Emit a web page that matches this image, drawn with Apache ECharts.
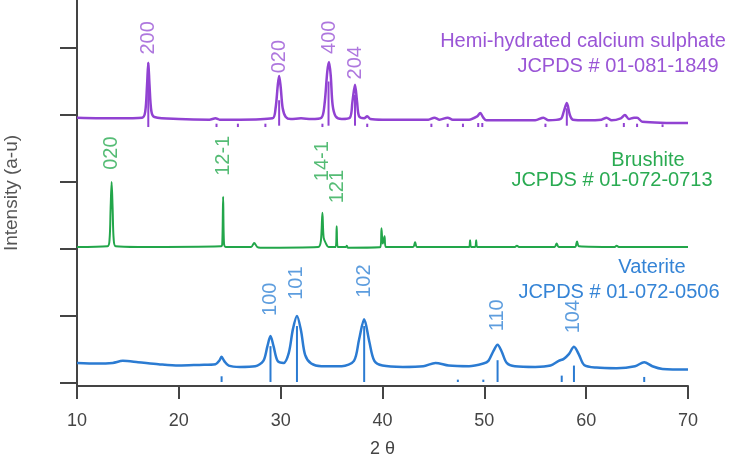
<!DOCTYPE html>
<html>
<head>
<meta charset="utf-8">
<script src="https://cdn.jsdelivr.net/npm/echarts@6/dist/echarts.min.js"></script>
<style>
  html, body { margin: 0; padding: 0; background: #fff; }
  #chart { width: 731px; height: 454px; }
</style>
</head>
<body>
<div id="chart"></div>
<script>
// XRD patterns, [2theta, intensity (offset, arbitrary units)]
var hemiPattern = [
  [10, 3.96], [14, 3.95], [16.4, 3.96], [16.7, 4.05], [16.88, 4.45], [17.0, 4.78], [17.12, 4.45], [17.3, 4.06], [17.6, 3.97],
  [20, 3.94], [23, 3.93], [23.6, 3.95], [24, 3.93], [26, 3.93], [29.2, 3.95], [29.5, 4.1], [29.72, 4.45], [29.85, 4.58],
  [30.0, 4.42], [30.2, 4.1], [30.5, 3.97], [31, 3.94], [32, 3.95], [33, 3.94], [34.0, 3.96], [34.3, 4.15], [34.58, 4.65],
  [34.75, 4.79], [34.92, 4.58], [35.1, 4.15], [35.4, 3.98], [36, 3.94], [36.8, 3.96], [37.05, 4.2], [37.3, 4.45],
  [37.5, 4.2], [37.7, 3.98], [38.2, 3.95], [38.5, 3.98], [38.8, 3.94], [40, 3.93], [44.5, 3.93], [45.1, 3.96], [45.6, 3.93],
  [46.4, 3.96], [46.9, 3.93], [48.5, 3.93], [49.3, 3.98], [49.6, 4.03], [49.9, 3.96], [50.2, 3.92], [55, 3.92], [55.8, 3.96],
  [56.3, 3.92], [57.5, 3.94], [57.8, 4.05], [58.1, 4.18], [58.4, 4.0], [58.7, 3.93], [60, 3.92], [61.5, 3.93], [62, 3.96],
  [62.5, 3.92], [63.4, 3.95], [63.8, 4.0], [64.2, 3.94], [64.7, 3.96], [65.0, 3.96], [65.5, 3.9], [70, 3.88]
];
var brushitePattern = [
  [10, 2.03], [13.0, 2.04], [13.2, 2.15], [13.3, 2.6], [13.4, 3.0], [13.5, 2.6], [13.6, 2.15], [13.8, 2.04], [16, 2.03],
  [24.15, 2.04], [24.27, 2.1], [24.35, 2.78], [24.43, 2.1], [24.6, 2.03], [27.1, 2.03], [27.4, 2.09], [27.7, 2.03],
  [28, 2.02], [33.7, 2.03], [33.95, 2.12], [34.1, 2.54], [34.22, 2.17], [34.45, 2.08], [34.7, 2.03], [35.4, 2.03],
  [35.5, 2.34], [35.6, 2.03], [36.4, 2.03], [36.5, 2.05], [36.6, 2.02], [39.8, 2.03], [39.9, 2.31], [40.02, 2.08],
  [40.2, 2.19], [40.32, 2.03], [43.0, 2.03], [43.2, 2.1], [43.4, 2.03], [48.5, 2.03], [48.6, 2.13], [48.7, 2.03],
  [49.1, 2.03], [49.2, 2.13], [49.3, 2.03], [53.0, 2.03], [53.2, 2.05], [53.4, 2.03], [56.9, 2.03], [57.1, 2.08],
  [57.3, 2.03], [58.9, 2.03], [59.1, 2.11], [59.3, 2.04], [62.8, 2.03], [63.0, 2.05], [63.2, 2.03], [70, 2.03]
];
var vateritePattern = [
  [10, 0.30], [12, 0.29], [13.5, 0.30], [14.5, 0.33], [16, 0.31], [18, 0.28], [20, 0.26], [22, 0.27], [23.6, 0.28],
  [24.0, 0.34], [24.2, 0.39], [24.45, 0.33], [24.9, 0.26], [26, 0.24], [27.5, 0.25], [28.3, 0.33], [28.7, 0.55],
  [29.0, 0.70], [29.3, 0.55], [29.7, 0.33], [30.3, 0.30], [30.8, 0.45], [31.2, 0.80], [31.6, 1.0], [32.0, 0.78],
  [32.4, 0.42], [33, 0.29], [34, 0.25], [36, 0.25], [37.2, 0.33], [37.7, 0.65], [38.2, 0.95], [38.7, 0.62], [39.2, 0.33],
  [40, 0.26], [42, 0.24], [44, 0.25], [45.2, 0.30], [46.5, 0.26], [48.5, 0.25], [49.9, 0.29], [50.4, 0.33], [50.9, 0.48],
  [51.3, 0.57], [51.7, 0.47], [52.2, 0.30], [53, 0.25], [55, 0.24], [56.5, 0.26], [57.3, 0.33], [57.8, 0.36], [58.3, 0.43],
  [58.8, 0.54], [59.3, 0.42], [59.8, 0.27], [61, 0.23], [63, 0.22], [64.8, 0.25], [65.7, 0.31], [66.5, 0.25], [67.5, 0.21],
  [70, 0.20]
];

// JCPDS reference sticks: [2theta, from, to]
var hemiSticks = [
  [17.0, 3.82, 4.78], [29.85, 3.84, 4.22], [34.7, 3.84, 4.5], [37.3, 3.84, 4.3], [58.1, 3.84, 4.1],
  [23.7, 3.82, 3.87], [25.8, 3.82, 3.87], [28.5, 3.82, 3.87], [34.1, 3.82, 3.87], [38.5, 3.82, 3.87],
  [44.8, 3.82, 3.87], [46.4, 3.82, 3.87], [47.9, 3.82, 3.87], [49.4, 3.82, 3.88], [49.8, 3.82, 3.88],
  [56.0, 3.82, 3.87], [62.0, 3.82, 3.87], [63.7, 3.82, 3.88], [65.0, 3.82, 3.87], [67.5, 3.82, 3.86]
];
var vateriteSticks = [
  [24.2, 0.015, 0.10], [29.0, 0.015, 0.55], [31.6, 0.015, 0.85], [38.2, 0.015, 0.85], [47.4, 0.015, 0.05],
  [49.9, 0.015, 0.05], [51.3, 0.015, 0.34], [57.6, 0.015, 0.11], [58.8, 0.015, 0.26], [65.7, 0.015, 0.09]
];

// Miller index labels: [2theta, label position, text]
var hemiLabels = [[17.0, 5.15, '200'], [29.85, 4.87, '020'], [34.75, 5.16, '400'], [37.3, 4.78, '204']];
var brushiteLabels = [[13.4, 3.43, '020'], [24.35, 3.39, '12-1'], [34.1, 3.31, '14-1'], [35.55, 2.93, '121']];
var vateriteLabels = [[29.0, 1.25, '100'], [31.6, 1.49, '101'], [38.2, 1.52, '102'], [51.3, 1.01, '110'], [58.8, 0.99, '104']];

var xTicks = [10, 20, 30, 40, 50, 60, 70];
var yTicks = [0, 1, 2, 3, 4, 5];

var purple = '#9142d2';
var green = '#22a64a';
var blue = '#2b7bd2';
var font = 'Liberation Sans';

function lineSeries (data, color, width) {
  return {
    type: 'line',
    data: data,
    symbol: 'none',
    smooth: 0.3,
    lineStyle: { color: color, width: width },
    silent: true,
    z: 3
  }
}

function stickSeries (data, color) {
  return {
    type: 'custom',
    data: data,
    encode: { x: 0, y: [1, 2] },
    renderItem: function (params, api) {
      var p1 = api.coord([api.value(0), api.value(1)])
      var p2 = api.coord([api.value(0), api.value(2)])
      return {
        type: 'line',
        shape: { x1: p1[0], y1: p1[1], x2: p2[0], y2: p2[1] },
        style: { stroke: color, lineWidth: 2 }
      }
    },
    silent: true,
    z: 4
  }
}

function labelSeries (data, color) {
  return {
    type: 'scatter',
    data: data,
    symbolSize: 0,
    silent: true,
    label: {
      show: true,
      position: 'inside',
      rotate: 90,
      color: color,
      fontFamily: font,
      fontSize: 20,
      formatter: function (p) { return p.value[2] }
    }
  }
}

function noteText (text, cx, cy, color) {
  return {
    type: 'text',
    x: cx,
    y: cy,
    style: {
      text: text,
      fill: color,
      font: '20px "' + font + '"',
      textAlign: 'center',
      textVerticalAlign: 'middle'
    }
  }
}

var chart = echarts.init(document.getElementById('chart'))
chart.setOption({
  animation: false,
  backgroundColor: '#fff',
  grid: { left: 77, right: 43, top: 0, bottom: 68, outerBoundsMode: 'none' },
  xAxis: {
    type: 'value',
    min: 10,
    max: 70,
    interval: 10,
    name: '2 θ',
    nameLocation: 'middle',
    nameGap: 54,
    nameTextStyle: { color: '#444', fontFamily: font, fontSize: 18 },
    axisLine: { onZero: false, lineStyle: { color: '#444', width: 2 } },
    axisTick: { length: 13, lineStyle: { color: '#444', width: 2 }, customValues: xTicks },
    axisLabel: { color: '#444', fontFamily: font, fontSize: 18, margin: 26, customValues: xTicks },
    splitLine: { show: false }
  },
  yAxis: {
    type: 'value',
    min: -0.045,
    max: 5.716,
    name: 'Intensity (a-u)',
    nameLocation: 'middle',
    nameGap: 56,
    nameTextStyle: { color: '#555', fontFamily: font, fontSize: 19 },
    axisLine: { onZero: false, lineStyle: { color: '#444', width: 2 } },
    axisTick: { length: 17, lineStyle: { color: '#444', width: 2 }, customValues: yTicks },
    axisLabel: { show: false },
    splitLine: { show: false }
  },
  graphic: [
    noteText('Hemi-hydrated calcium sulphate', 583, 41, '#9a55d6'),
    noteText('JCPDS # 01-081-1849', 618, 66, '#9a55d6'),
    noteText('Brushite', 648, 160, '#2aab52'),
    noteText('JCPDS # 01-072-0713', 612, 180, '#2aab52'),
    noteText('Vaterite', 652, 267, '#3584d6'),
    noteText('JCPDS # 01-072-0506', 619, 292, '#3584d6')
  ],
  series: [
    lineSeries(hemiPattern, purple, 2.5),
    lineSeries(brushitePattern, green, 2),
    lineSeries(vateritePattern, blue, 2.5),
    stickSeries(hemiSticks, purple),
    stickSeries(vateriteSticks, blue),
    labelSeries(hemiLabels, '#9a55d6'),
    labelSeries(brushiteLabels, '#2aab52'),
    labelSeries(vateriteLabels, '#3584d6')
  ]
})
</script>
</body>
</html>
